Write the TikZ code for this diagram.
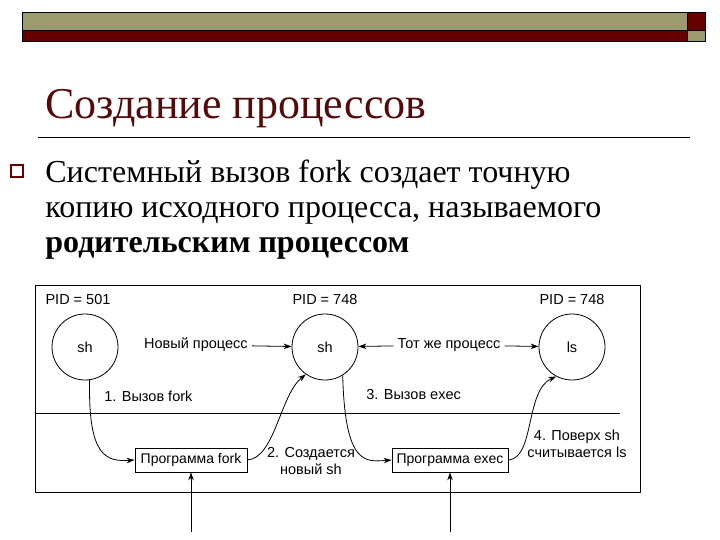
\documentclass[tikz,border=0pt]{standalone}
\usepackage{fontspec}
\setmainfont{Liberation Serif}
\newfontfamily\diagfont{Liberation Sans}
\usetikzlibrary{arrows.meta}
\definecolor{olivebar}{RGB}{155,155,110}
\definecolor{darkred}{RGB}{102,0,0}
\definecolor{titlered}{RGB}{85,10,10}
\tikzset{
  proc/.style={draw, circle, minimum size=66pt, inner sep=0pt, font=\diagfont\fontsize{14.5}{17}\selectfont},
  prog/.style={draw, minimum width=112pt, minimum height=24pt, inner sep=2pt, font=\diagfont\fontsize{14}{17}\selectfont},
  lbl/.style={font=\diagfont\fontsize{14.5}{17}\selectfont, inner sep=1pt},
  bodytext/.style={anchor=base west, font=\fontsize{32}{38}\selectfont, inner sep=0pt}
}
\begin{document}
\begin{tikzpicture}[x=1pt, y=-1pt, >={Stealth[length=8pt, width=5.5pt]}, line width=0.8pt]
\useasboundingbox[fill=white] (0,0) rectangle (720,540);
% header bars
\fill[olivebar, draw=black, line width=0.5pt] (22,12) rectangle (687,30);
\fill[darkred, draw=black, line width=0.5pt] (22,30) rectangle (687,41);
\fill[darkred, draw=black, line width=0.5pt] (687,12) rectangle (705,30);
\fill[olivebar, draw=black, line width=0.5pt] (687,30) rectangle (705,41);
% title
\node[anchor=base west, inner sep=0pt, text=titlered, font=\fontsize{44}{50}\selectfont] (title) at (45,119) {Создание процессов};
\draw[line width=0.6pt] (38,137) -- (690,137);
% bullet text
\node[draw=darkred, line width=1.4pt, minimum size=12pt, inner sep=0pt] (bullet) at (17,171) {};
\node[bodytext] (line1) at (45,183) {Системный вызов fork создает точную};
\node[bodytext] (line2) at (45,218) {копию исходного процесса, называемого};
\node[bodytext, font=\bfseries\fontsize{32}{38}\selectfont] (line3) at (45,252) {родительским процессом};
% diagram frame
\draw (35,285) -- (640,285) -- (640,492) -- (35,492) -- cycle;
\draw (35,413) -- (620,413);
% processes
\node[proc] (sh1) at (85,347) {sh};
\node[proc] (sh2) at (325,347) {sh};
\node[proc] (ls) at (572,347) {ls};
\node[lbl] (pid1) at (78,300) {PID = 501};
\node[lbl] (pid2) at (325,300) {PID = 748};
\node[lbl] (pid3) at (572,300) {PID = 748};
\node[lbl, anchor=east, inner sep=4pt] (newp) at (252,345) {Новый процесс};
\node[lbl, inner sep=4pt] (samep) at (449,345) {Тот же процесс};
\draw[->] (newp) -- (sh2);
\draw[->] (samep) -- (sh2);
\draw[->] (samep) -- (ls);
% programs
\node[prog] (fork) at (191,460) {Программа fork};
\node[prog, minimum width=116pt] (exec) at (450,460) {Программа exec};
\coordinate (in1) at (191,532);
\coordinate (in2) at (450,532);
\draw[->] (in1) -- (fork);
\draw[->] (in2) -- (exec);
% steps
\node[lbl, anchor=west] (step1) at (103,396) {1. Вызов fork};
\node[lbl, anchor=west] (step3) at (365,395) {3. Вызов exec};
\node[lbl, align=center] (step2) at (311,461) {2. Создается\\новый sh};
\node[lbl, align=center] (step4) at (577,444) {4. Поверх sh\\считывается ls};
\draw[->] (sh1.-82) .. controls (88,455) and (105,462) .. (fork.west);
\draw[->] (fork.east) .. controls (275,458) and (280,395) .. (sh2.-125);
\draw[->] (sh2.-58) .. controls (345,465) and (365,462) .. (exec.west);
\draw[->] (exec.east) .. controls (535,458) and (525,390) .. (ls.-118);
\end{tikzpicture}
\end{document}
